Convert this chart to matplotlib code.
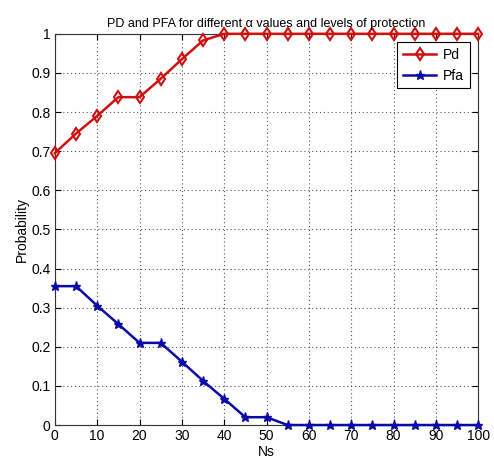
import matplotlib
matplotlib.use("Agg")
import matplotlib.pyplot as plt

plt.rcParams["font.family"] = ["Liberation Sans", "DejaVu Sans"]

ns = [0, 5, 10, 15, 20, 25, 30, 35, 40, 45, 50, 55, 60, 65, 70, 75, 80, 85, 90, 95, 100]
pd_values = [0.695, 0.745, 0.79, 0.838, 0.838, 0.885, 0.935, 0.983, 1, 1, 1,
             1, 1, 1, 1, 1, 1, 1, 1, 1, 1]
pfa_values = [0.355, 0.355, 0.305, 0.258, 0.21, 0.21, 0.162, 0.113, 0.067, 0.02, 0.02,
              0, 0, 0, 0, 0, 0, 0, 0, 0, 0]

fig = plt.figure(figsize=(4.94, 4.63), dpi=100, facecolor="white")
ax = fig.add_axes([0.111, 0.082, 0.857, 0.845])

ax.plot(ns, pd_values, color="#d01010", linewidth=1.8, marker="d", markersize=6.5,
        markerfacecolor="none", markeredgecolor="#d01010", markeredgewidth=1.5,
        label="Pd", clip_on=False, zorder=3)
ax.plot(ns, pfa_values, color="#0a0aa8", linewidth=1.8, marker="*", markersize=6.5,
        markerfacecolor="#0a0aa8", markeredgecolor="#0a0aa8",
        label="Pfa", clip_on=False, zorder=3)

ax.set_xlim(0, 100)
ax.set_ylim(0, 1)
ax.set_xticks(range(0, 101, 10))
ax.set_yticks([i / 10 for i in range(11)])
ax.set_yticklabels(["0", "0.1", "0.2", "0.3", "0.4", "0.5", "0.6", "0.7", "0.8", "0.9", "1"])
ax.tick_params(direction="in", top=True, right=True, labelsize=10, length=4, pad=3)
ax.grid(True, linestyle=(0, (1, 2.5)), color="#555555", linewidth=0.8)

ax.set_xlabel("Ns", fontsize=10, labelpad=1)
ax.set_ylabel("Probability", fontsize=10, labelpad=2)
ax.set_title("PD and PFA for different \u03b1 values and levels of protection", fontsize=9, pad=5)

for spine in ax.spines.values():
    spine.set_color("#333333")

leg = ax.legend(loc="upper right", fontsize=10, fancybox=False, edgecolor="black",
                framealpha=1, borderaxespad=0.6, handlelength=2.4, handletextpad=0.5)
leg.get_frame().set_linewidth(0.8)

fig.savefig("out.png", dpi=100, facecolor="white")
